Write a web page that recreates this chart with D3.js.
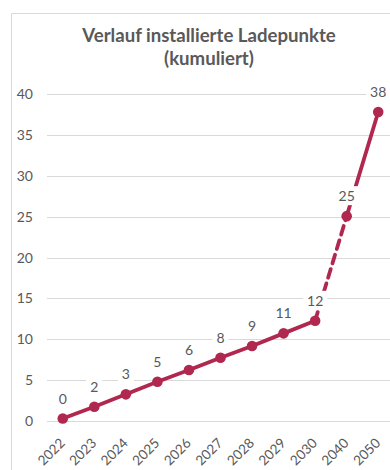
<!DOCTYPE html>
<html>
<head>
<meta charset="utf-8">
<script src="https://cdn.jsdelivr.net/npm/d3@7/dist/d3.min.js"></script>
<style>
  html, body { margin: 0; padding: 0; background: #fff; }
  svg { display: block; font-family: Lato, "Open Sans", sans-serif; }
</style>
</head>
<body>
<svg id="chart" width="390" height="470"></svg>
<script>
// Installierte Ladepunkte, kumuliert
const years = ["2022", "2023", "2024", "2025", "2026", "2027", "2028", "2029", "2030", "2040", "2050"];
const values = [0.3, 1.75, 3.26, 4.8, 6.23, 7.74, 9.17, 10.72, 12.26, 25.06, 37.8];
const yTicks = [0, 5, 10, 15, 20, 25, 30, 35, 40];
const titleLines = ["Verlauf installierte Ladepunkte", "(kumuliert)"];
// segments (by start index) drawn dashed
const dashedSegments = [8];

const W = 390, H = 470;
const svg = d3.select("#chart");
const lineColor = "#b0284f";
const textColor = "#595959";

// chart frame
svg.append("path")
  .attr("d", `M11.5,${H} V13.5 H${W}`)
  .attr("fill", "none")
  .attr("stroke", "#d9d9d9")
  .attr("stroke-width", 1);

// title
const title = svg.append("text")
  .attr("text-anchor", "middle")
  .attr("fill", textColor)
  .attr("font-weight", "bold")
  .attr("font-size", 18.6);
titleLines.forEach((t, i) => {
  title.append("tspan").attr("x", 209).attr("y", 42 + i * 23).text(t);
});

const x = d3.scalePoint().domain(years).range([47, 394]).padding(0.5);
const y = d3.scaleLinear().domain([0, 40]).range([421, 94]);

// gridlines
svg.append("g")
  .selectAll("line")
  .data(yTicks)
  .join("line")
  .attr("x1", 47).attr("x2", 394)
  .attr("y1", d => Math.round(y(d)) + 0.5)
  .attr("y2", d => Math.round(y(d)) + 0.5)
  .attr("stroke", "#d9d9d9")
  .attr("stroke-width", 1);

// y axis labels
svg.append("g")
  .selectAll("text")
  .data(yTicks)
  .join("text")
  .attr("x", 33)
  .attr("y", d => y(d))
  .attr("dy", "0.36em")
  .attr("text-anchor", "end")
  .attr("font-size", 14)
  .attr("fill", textColor)
  .text(d => d);

// x axis labels, rotated
svg.append("g")
  .selectAll("text")
  .data(years)
  .join("text")
  .attr("transform", d => `translate(${x(d) + 3},${444}) rotate(-45)`)
  .attr("text-anchor", "end")
  .attr("font-size", 13.6)
  .attr("fill", textColor)
  .text(d => d);

// line segments
const pts = years.map((yr, i) => [x(yr), y(values[i])]);
const seg = svg.append("g");
for (let i = 0; i < pts.length - 1; i++) {
  seg.append("line")
    .attr("x1", pts[i][0]).attr("y1", pts[i][1])
    .attr("x2", pts[i + 1][0]).attr("y2", pts[i + 1][1])
    .attr("stroke", lineColor)
    .attr("stroke-width", 3.8)
    .attr("stroke-linecap", "round")
    .attr("stroke-dasharray", dashedSegments.includes(i) ? "9,6" : null);
}

// markers
svg.append("g")
  .selectAll("circle")
  .data(pts)
  .join("circle")
  .attr("cx", d => d[0])
  .attr("cy", d => d[1])
  .attr("r", 5.3)
  .attr("fill", lineColor);

// data labels with white background
const labels = svg.append("g")
  .selectAll("g")
  .data(values)
  .join("g")
  .attr("transform", (d, i) => `translate(${pts[i][0]},${pts[i][1] - 20})`);
labels.append("rect")
  .attr("fill", "#fff");
labels.append("text")
  .attr("text-anchor", "middle")
  .attr("dy", "0.36em")
  .attr("font-size", 14)
  .attr("fill", textColor)
  .text(d => Math.round(d));
labels.each(function () {
  const g = d3.select(this);
  const bb = g.select("text").node().getBBox();
  g.select("rect")
    .attr("x", bb.x - 4).attr("y", bb.y - 1)
    .attr("width", bb.width + 8).attr("height", bb.height + 2);
});
</script>
</body>
</html>
